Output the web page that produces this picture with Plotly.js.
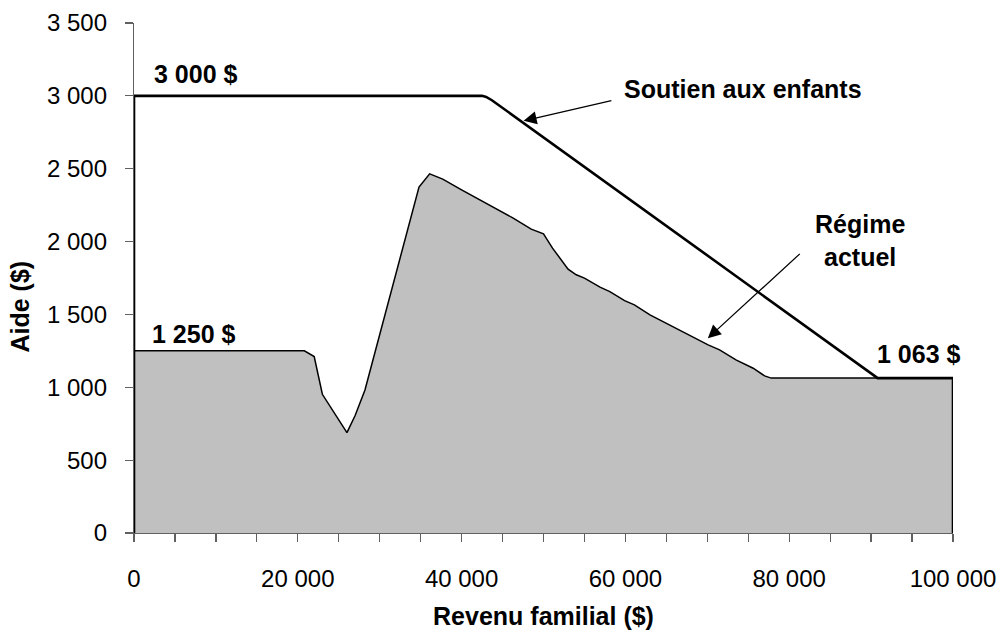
<!DOCTYPE html>
<html>
<head>
<meta charset="utf-8">
<script src="https://cdn.plot.ly/plotly-3.0.1.min.js"></script>
<style>html,body{margin:0;padding:0;background:#fff;}#chart{width:1003px;height:630px;}</style>
</head>
<body>
<div id="chart"></div>
<script>
// Régime actuel (area)
var regimeX = [0, 20800, 22000, 23000, 26000, 27000, 28200, 34800, 36100, 37700, 40000, 42200, 44200, 46300, 48500, 50000, 51100, 53000, 54000, 55000, 56900, 58100, 59900, 61100, 63000, 65000, 67000, 70100, 71500, 73500, 75600, 77000, 77800, 100000];
var regimeY = [1250, 1250, 1211, 952, 689, 806, 982, 2374, 2465, 2429, 2355, 2287, 2223, 2161, 2085, 2053, 1955, 1811, 1772, 1749, 1687, 1657, 1595, 1566, 1497, 1440, 1378, 1291, 1257, 1188, 1131, 1078, 1063, 1063];
// Soutien aux enfants (line)
var soutienX = [0, 0, 42500, 43000, 43700, 90800, 100000, 100000];
var soutienY = [0, 3000, 3000, 2993, 2970, 1063, 1063, 0];

var xTickVals = [0, 20000, 40000, 60000, 80000, 100000];
var xTickText = ['0', '20 000', '40 000', '60 000', '80 000', '100 000'];
var yTickVals = [0, 500, 1000, 1500, 2000, 2500, 3000, 3500];
var yTickText = ['0', '500', '1 000', '1 500', '2 000', '2 500', '3 000', '3 500'];

var FONT = 'Liberation Sans, Arial, sans-serif';

var traces = [
  {
    x: regimeX, y: regimeY, type: 'scatter', mode: 'lines', name: 'Régime actuel',
    fill: 'tozeroy', fillcolor: '#c0c0c0',
    line: {color: '#000000', width: 1.5}, showlegend: false, hoverinfo: 'skip'
  },
  {
    x: soutienX, y: soutienY, type: 'scatter', mode: 'lines', name: 'Soutien aux enfants',
    line: {color: '#000000', width: 2.6}, showlegend: false, hoverinfo: 'skip', cliponaxis: false
  }
];

var labelFont = {family: FONT, size: 25, color: '#000000', weight: 'bold'};

var layout = {
  width: 1003, height: 630,
  margin: {l: 134, r: 50, t: 23, b: 97},
  paper_bgcolor: '#ffffff', plot_bgcolor: '#ffffff',
  font: {family: FONT, color: '#000000'},
  showlegend: false,
  xaxis: {
    range: [0, 100000], showgrid: false, zeroline: false,
    showline: true, linecolor: '#606060', linewidth: 1.2,
    ticks: 'outside', ticklen: 8, tickcolor: '#606060', tickwidth: 1.2,
    tickvals: xTickVals, ticktext: xTickText,
    tickfont: {family: FONT, size: 24, color: '#000000'},
    ticklabelstandoff: 16,
    minor: {dtick: 5000, ticks: 'outside', ticklen: 8, tickcolor: '#606060', tickwidth: 1.2, showgrid: false},
    title: {text: 'Revenu familial ($)', font: {family: FONT, size: 25, color: '#000000', weight: 'bold'}, standoff: 16}
  },
  yaxis: {
    range: [0, 3500], showgrid: false, zeroline: false,
    showline: true, linecolor: '#606060', linewidth: 1.2,
    ticks: 'outside', ticklen: 8, tickcolor: '#606060', tickwidth: 1.2,
    tickvals: yTickVals, ticktext: yTickText,
    tickfont: {family: FONT, size: 24, color: '#000000'},
    ticklabelstandoff: 13
  },
  annotations: [
    {x: -0.1386, y: 0.445, xref: 'paper', yref: 'paper', text: 'Aide ($)', textangle: -90, showarrow: false, font: {family: FONT, size: 25, color: '#000000', weight: 'bold'}, xanchor: 'center', yanchor: 'middle'},
    {x: 7600, y: 3152, xref: 'x', yref: 'y', text: '3 000 $', showarrow: false, font: labelFont, xanchor: 'center', yanchor: 'middle'},
    {x: 7300, y: 1366, xref: 'x', yref: 'y', text: '1 250 $', showarrow: false, font: labelFont, xanchor: 'center', yanchor: 'middle'},
    {x: 95900, y: 1229, xref: 'x', yref: 'y', text: '1 063 $', showarrow: false, font: labelFont, xanchor: 'center', yanchor: 'middle'},
    {x: 74350, y: 3049, xref: 'x', yref: 'y', text: 'Soutien aux enfants', showarrow: false, font: labelFont, xanchor: 'center', yanchor: 'middle'},
    {x: 88700, y: 2005, xref: 'x', yref: 'y', text: 'Régime<br>actuel', showarrow: false, font: labelFont, xanchor: 'center', yanchor: 'middle', align: 'center'},
    {x: 47570, y: 2829, xref: 'x', yref: 'y', ax: 58470, ay: 2969, axref: 'x', ayref: 'y', text: '', showarrow: true, arrowhead: 2, arrowsize: 2, arrowwidth: 1.3, arrowcolor: '#000000'},
    {x: 70070, y: 1337, xref: 'x', yref: 'y', ax: 81480, ay: 1925, axref: 'x', ayref: 'y', text: '', showarrow: true, arrowhead: 2, arrowsize: 2, arrowwidth: 1.3, arrowcolor: '#000000'}
  ]
};

Plotly.newPlot('chart', traces, layout, {displayModeBar: false, staticPlot: true});
</script>
</body>
</html>
